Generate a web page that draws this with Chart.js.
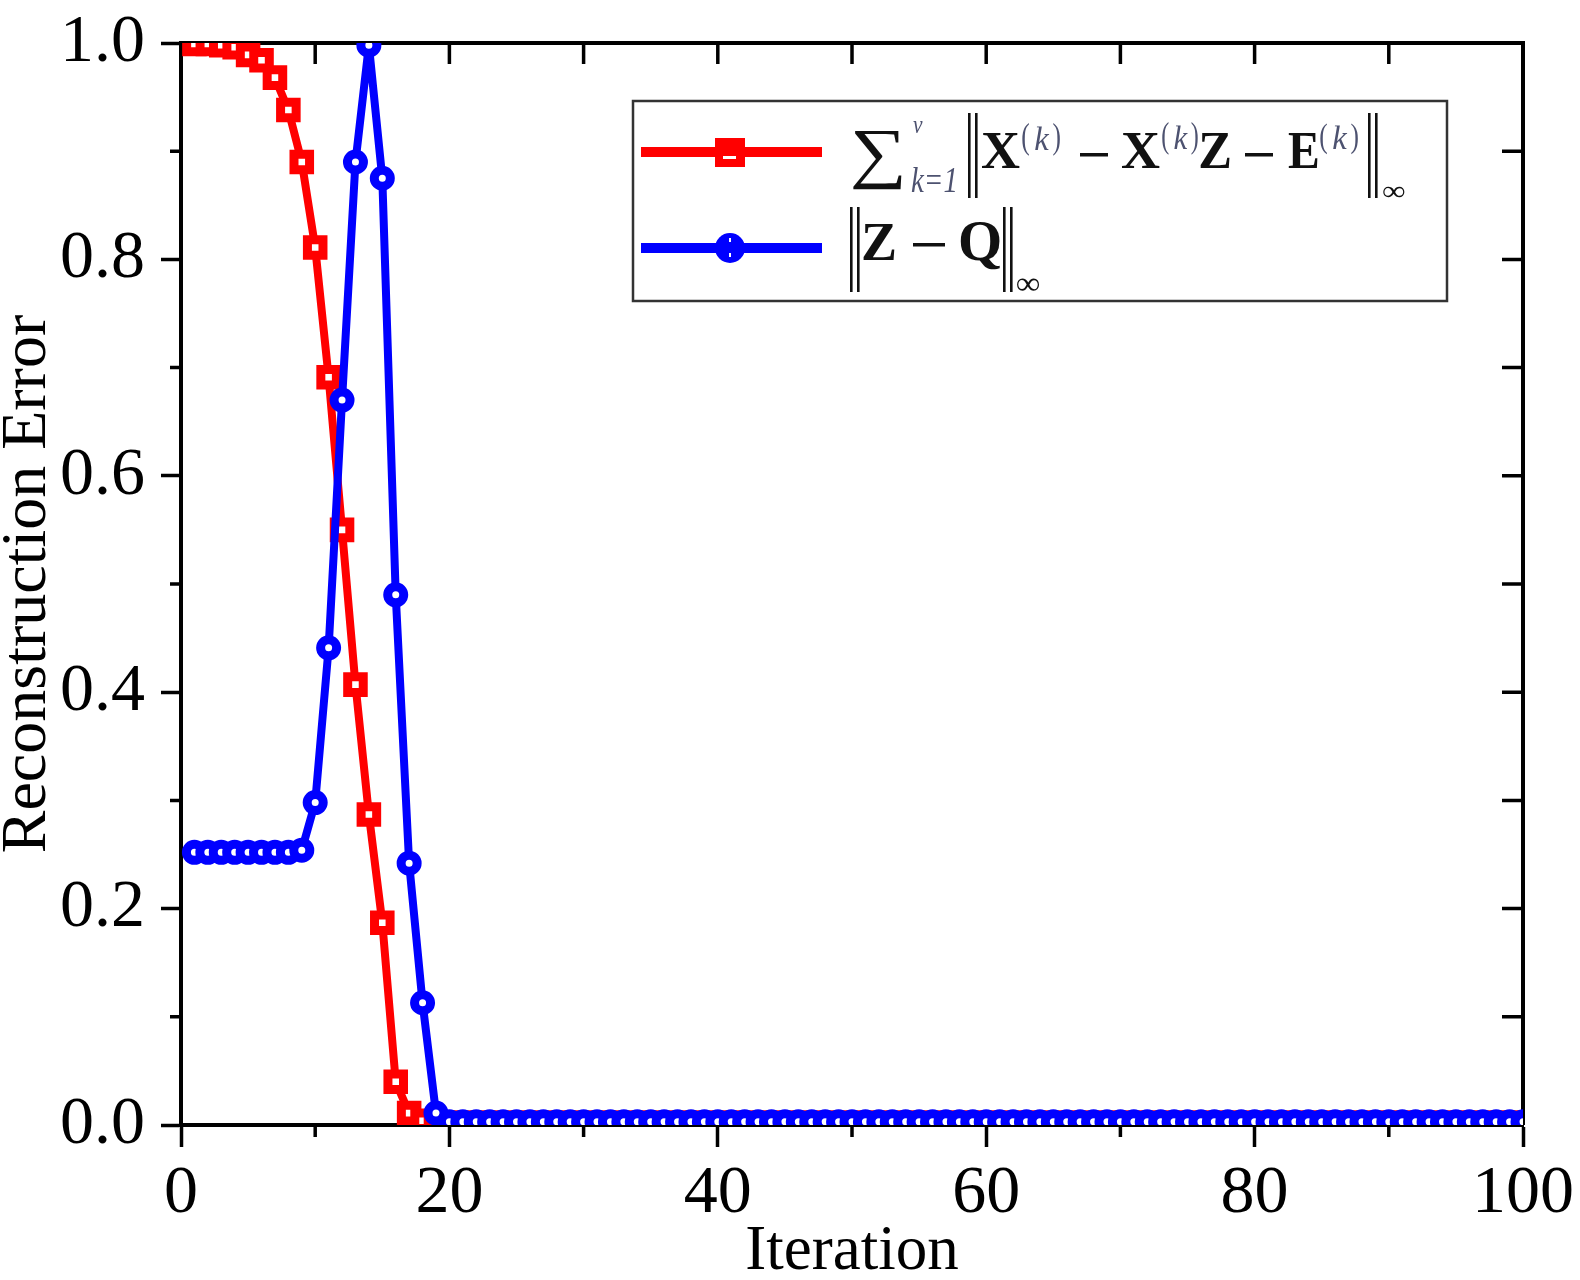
<!DOCTYPE html>
<html>
<head>
<meta charset="utf-8">
<script src="https://cdn.jsdelivr.net/npm/chart.js@4.4.0/dist/chart.umd.min.js"></script>
<style>
  html, body { margin: 0; padding: 0; background: #fff; }
  #wrap { width: 1580px; height: 1280px; }
</style>
</head>
<body>
<div id="wrap"><canvas id="chart"></canvas></div>
<script>
// iteration index (x)
const iterations = [
  1, 2, 3, 4, 5, 6, 7, 8, 9, 10,
  11, 12, 13, 14, 15, 16, 17, 18, 19, 20,
  21, 22, 23, 24, 25, 26, 27, 28, 29, 30,
  31, 32, 33, 34, 35, 36, 37, 38, 39, 40,
  41, 42, 43, 44, 45, 46, 47, 48, 49, 50,
  51, 52, 53, 54, 55, 56, 57, 58, 59, 60,
  61, 62, 63, 64, 65, 66, 67, 68, 69, 70,
  71, 72, 73, 74, 75, 76, 77, 78, 79, 80,
  81, 82, 83, 84, 85, 86, 87, 88, 89, 90,
  91, 92, 93, 94, 95, 96, 97, 98, 99, 100
];

// sum_k ||X(k) - X(k)Z - E(k)||_inf  (red squares)
const residualErr = [
  0.999, 0.999, 0.998, 0.996, 0.989, 0.984, 0.968, 0.938, 0.890, 0.811,
  0.691, 0.550, 0.407, 0.287, 0.187, 0.040, 0.011, 0.004, 0.002, 0.002,
  0.002, 0.002, 0.002, 0.002, 0.002, 0.002, 0.002, 0.002, 0.002, 0.002,
  0.002, 0.002, 0.002, 0.002, 0.002, 0.002, 0.002, 0.002, 0.002, 0.002,
  0.002, 0.002, 0.002, 0.002, 0.002, 0.002, 0.002, 0.002, 0.002, 0.002,
  0.002, 0.002, 0.002, 0.002, 0.002, 0.002, 0.002, 0.002, 0.002, 0.002,
  0.002, 0.002, 0.002, 0.002, 0.002, 0.002, 0.002, 0.002, 0.002, 0.002,
  0.002, 0.002, 0.002, 0.002, 0.002, 0.002, 0.002, 0.002, 0.002, 0.002,
  0.002, 0.002, 0.002, 0.002, 0.002, 0.002, 0.002, 0.002, 0.002, 0.002,
  0.002, 0.002, 0.002, 0.002, 0.002, 0.002, 0.002, 0.002, 0.002, 0.002
];

// ||Z - Q||_inf  (blue circles)
const zqErr = [
  0.252, 0.252, 0.252, 0.252, 0.252, 0.252, 0.252, 0.252, 0.254, 0.298,
  0.441, 0.670, 0.890, 0.998, 0.875, 0.490, 0.242, 0.113, 0.011, 0.003,
  0.003, 0.003, 0.003, 0.003, 0.003, 0.003, 0.003, 0.003, 0.003, 0.003,
  0.003, 0.003, 0.003, 0.003, 0.003, 0.003, 0.003, 0.003, 0.003, 0.003,
  0.003, 0.003, 0.003, 0.003, 0.003, 0.003, 0.003, 0.003, 0.003, 0.003,
  0.003, 0.003, 0.003, 0.003, 0.003, 0.003, 0.003, 0.003, 0.003, 0.003,
  0.003, 0.003, 0.003, 0.003, 0.003, 0.003, 0.003, 0.003, 0.003, 0.003,
  0.003, 0.003, 0.003, 0.003, 0.003, 0.003, 0.003, 0.003, 0.003, 0.003,
  0.003, 0.003, 0.003, 0.003, 0.003, 0.003, 0.003, 0.003, 0.003, 0.003,
  0.003, 0.003, 0.003, 0.003, 0.003, 0.003, 0.003, 0.003, 0.003, 0.003
];

const xMajorTicks = [0, 20, 40, 60, 80, 100];
const xMinorTicks = [10, 30, 50, 70, 90];
const yMajorTicks = [0, 0.2, 0.4, 0.6, 0.8, 1.0];
const yMinorTicks = [0.1, 0.3, 0.5, 0.7, 0.9];

const SERIF = '"Liberation Serif", "Times New Roman", "DejaVu Serif", serif';

// draw text squeezed into a measured box [x0, y0, x1, y1]
function fitText(ctx, text, font, box, color) {
  ctx.save();
  ctx.font = font;
  ctx.textAlign = 'left';
  ctx.textBaseline = 'alphabetic';
  const m = ctx.measureText(text);
  const w = m.actualBoundingBoxLeft + m.actualBoundingBoxRight;
  const h = m.actualBoundingBoxAscent + m.actualBoundingBoxDescent;
  const sx = (box[2] - box[0]) / w;
  const sy = (box[3] - box[1]) / h;
  ctx.translate(box[0] + m.actualBoundingBoxLeft * sx, box[1] + m.actualBoundingBoxAscent * sy);
  ctx.scale(sx, sy);
  ctx.fillStyle = color;
  ctx.fillText(text, 0, 0);
  ctx.restore();
}

// superscript "(k)": upright parens, italic k
function supK(ctx, x0, y0, x1, y1, color) {
  const w = x1 - x0;
  fitText(ctx, '(', '30px ' + SERIF, [x0, y0, x0 + w * 0.2, y1], color);
  fitText(ctx, 'k', 'italic 30px ' + SERIF, [x0 + w * 0.32, y0 + (y1 - y0) * 0.12, x0 + w * 0.72, y1 - (y1 - y0) * 0.18], color);
  fitText(ctx, ')', '30px ' + SERIF, [x1 - w * 0.2, y0, x1, y1], color);
}

function normBars(ctx, x, y0, y1) {
  ctx.fillRect(x, y0, 2.6, y1 - y0);
  ctx.fillRect(x + 7, y0, 2.6, y1 - y0);
}

// frame: top/right border, minor ticks, mirrored inward ticks
const framePlugin = {
  id: 'frame',
  beforeDatasetsDraw(chart) {
    const { ctx, chartArea: a, scales: { x, y } } = chart;
    ctx.save();
    ctx.strokeStyle = '#000';
    ctx.lineWidth = 4;
    ctx.beginPath();
    ctx.moveTo(a.left, a.top);
    ctx.lineTo(a.right, a.top);
    ctx.lineTo(a.right, a.bottom);
    ctx.stroke();

    ctx.lineWidth = 3.5;
    ctx.beginPath();
    xMinorTicks.forEach(v => {
      const px = x.getPixelForValue(v);
      ctx.moveTo(px, a.bottom);
      ctx.lineTo(px, a.bottom + 12);
    });
    yMinorTicks.forEach(v => {
      const py = y.getPixelForValue(v);
      ctx.moveTo(a.left, py);
      ctx.lineTo(a.left - 11, py);
    });
    xMinorTicks.concat(xMajorTicks).forEach(v => {
      if (v <= 0 || v >= 100) return;
      const px = x.getPixelForValue(v);
      ctx.moveTo(px, a.top);
      ctx.lineTo(px, a.top + 21);
    });
    yMinorTicks.concat(yMajorTicks).forEach(v => {
      if (v <= 0 || v >= 1) return;
      const py = y.getPixelForValue(v);
      ctx.moveTo(a.right, py);
      ctx.lineTo(a.right - 21, py);
    });
    ctx.stroke();
    ctx.restore();
  },
  afterDraw(chart) {
    const ctx = chart.ctx;
    ctx.save();
    // legend box
    ctx.fillStyle = '#fff';
    ctx.fillRect(633, 101, 814, 200);
    ctx.strokeStyle = '#333';
    ctx.lineWidth = 2.5;
    ctx.strokeRect(633, 101, 814, 200);

    // red sample
    ctx.fillStyle = '#ff0000';
    ctx.fillRect(641, 147, 181, 10);
    ctx.fillRect(715, 138, 30, 29);
    ctx.fillStyle = '#fff';
    ctx.fillRect(723, 156, 13, 3);

    // blue sample
    ctx.fillStyle = '#0000ff';
    ctx.fillRect(641, 243, 181, 10);
    ctx.beginPath();
    ctx.arc(730, 248, 15, 0, Math.PI * 2);
    ctx.fill();
    ctx.fillStyle = '#fff';
    ctx.fillRect(729, 238, 2, 4);
    ctx.fillRect(729, 253, 2, 4);

    const ink = '#111';
    const soft = '#4d5270';
    const bold = 'bold 54px ' + SERIF;
    const ital = 'italic 30px ' + SERIF;

    // line 1
    fitText(ctx, '\u2211', '72px ' + SERIF, [853, 130, 902, 190], ink);
    fitText(ctx, 'v', ital, [913, 121, 923, 133], soft);
    fitText(ctx, 'k=1', ital, [911, 168, 955, 192], soft);
    ctx.fillStyle = ink;
    normBars(ctx, 968, 113, 198);
    fitText(ctx, 'X', bold, [982, 133, 1020, 168], ink);
    supK(ctx, 1022, 123, 1060, 156, soft);
    ctx.fillStyle = ink;
    ctx.fillRect(1080, 153, 28, 3.5);
    fitText(ctx, 'X', bold, [1122, 133, 1160, 168], ink);
    supK(ctx, 1162, 122, 1198, 155, soft);
    fitText(ctx, 'Z', bold, [1200, 133, 1230, 168], ink);
    ctx.fillStyle = ink;
    ctx.fillRect(1245, 153, 28, 3.5);
    fitText(ctx, 'E', bold, [1288, 133, 1318, 168], ink);
    supK(ctx, 1320, 123, 1358, 155, soft);
    ctx.fillStyle = ink;
    normBars(ctx, 1368, 113, 198);
    fitText(ctx, '\u221E', '30px ' + SERIF, [1383, 186, 1405, 198], ink);

    // line 2
    ctx.fillStyle = ink;
    normBars(ctx, 850, 207, 292);
    fitText(ctx, 'Z', bold, [863, 223, 895, 260], ink);
    ctx.fillStyle = ink;
    ctx.fillRect(913, 243, 32, 3.5);
    fitText(ctx, 'Q', bold, [960, 222, 1000, 270], ink);
    ctx.fillStyle = ink;
    normBars(ctx, 1003, 207, 292);
    fitText(ctx, '\u221E', '30px ' + SERIF, [1017, 278, 1040, 292], ink);
    ctx.restore();
  }
};

const ctx = document.getElementById('chart').getContext('2d');

new Chart(ctx, {
  type: 'line',
  data: {
    datasets: [
      {
        label: 'residual',
        data: iterations.map((it, i) => ({ x: it, y: residualErr[i] })),
        borderColor: '#ff0000',
        borderWidth: 8,
        pointStyle: 'rect',
        pointRadius: 11,
        pointBorderWidth: 9,
        pointBorderColor: '#ff0000',
        pointBackgroundColor: '#ffffff',
        tension: 0,
        order: 2
      },
      {
        label: 'zq',
        data: iterations.map((it, i) => ({ x: it, y: zqErr[i] })),
        borderColor: '#0000ff',
        borderWidth: 8,
        pointStyle: 'circle',
        pointRadius: 8,
        pointBorderWidth: 9,
        pointBorderColor: '#0000ff',
        pointBackgroundColor: '#ffffff',
        tension: 0,
        order: 1
      }
    ]
  },
  options: {
    responsive: true,
    maintainAspectRatio: false,
    animation: false,
    layout: { padding: { top: 43, right: 57, left: 0, bottom: 0 } },
    plugins: {
      legend: { display: false },
      tooltip: { enabled: false }
    },
    scales: {
      x: {
        type: 'linear',
        min: 0,
        max: 100,
        afterBuildTicks: s => { s.ticks = xMajorTicks.map(v => ({ value: v })); },
        afterFit: s => { s.height = 155; },
        grid: { drawOnChartArea: false, tickLength: 22, tickWidth: 3.5, tickColor: '#000' },
        border: { display: true, width: 4, color: '#000' },
        ticks: {
          color: '#000',
          padding: 6,
          maxRotation: 0,
          font: { family: SERIF, size: 68 },
          callback: v => String(v)
        },
        title: {
          display: true,
          text: 'Iteration',
          color: '#000',
          font: { family: SERIF, size: 63, lineHeight: 0.86 },
          padding: 0
        }
      },
      y: {
        min: 0,
        max: 1,
        afterBuildTicks: s => { s.ticks = yMajorTicks.map(v => ({ value: v })); },
        afterFit: s => { s.width = 181; },
        grid: { drawOnChartArea: false, tickLength: 20, tickWidth: 3.5, tickColor: '#000' },
        border: { display: true, width: 4, color: '#000' },
        ticks: {
          color: '#000',
          padding: 16,
          font: { family: SERIF, size: 68, lineHeight: 0.75 },
          callback: v => v.toFixed(1)
        },
        title: {
          display: true,
          text: 'Reconstruction Error',
          color: '#000',
          font: { family: SERIF, size: 64, lineHeight: 0.88 },
          padding: 0
        }
      }
    }
  },
  plugins: [framePlugin]
});
</script>
</body>
</html>
